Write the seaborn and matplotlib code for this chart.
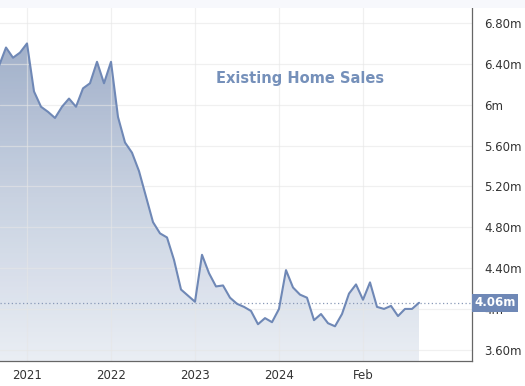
import numpy as np
import pandas as pd
import matplotlib
matplotlib.use("Agg")
import matplotlib.pyplot as plt
import seaborn as sns
from matplotlib.colors import LinearSegmentedColormap

# ---- data (monthly, Sep 2020 .. Sep 2025), millions SAAR ----
months = pd.date_range("2020-09-01", "2025-09-01", freq="MS").strftime("%Y-%m").tolist()
sales = [6.38, 6.56, 6.46, 6.51,
         6.60, 6.13, 5.98, 5.93, 5.87, 5.98, 6.06, 5.98, 6.16, 6.21, 6.42, 6.21,
         6.42, 5.88, 5.63, 5.53, 5.35, 5.10, 4.85, 4.74, 4.70, 4.48, 4.19, 4.13,
         4.07, 4.53, 4.35, 4.22, 4.23, 4.11, 4.05, 4.02, 3.98, 3.85, 3.91, 3.87,
         4.00, 4.38, 4.21, 4.14, 4.11, 3.89, 3.95, 3.86, 3.83, 3.95, 4.15, 4.24,
         4.09, 4.26, 4.02, 4.00, 4.03, 3.93, 4.00, 4.00, 4.06]
x_tick_months = ["2021-01", "2022-01", "2023-01", "2024-01", "2025-01"]
x_tick_labels = ["2021", "2022", "2023", "2024", "Feb"]
y_ticks = [3.6, 4.0, 4.4, 4.8, 5.2, 5.6, 6.0, 6.4, 6.8]
y_tick_labels = ["3.60m", "4m", "4.40m", "4.80m", "5.20m", "5.60m", "6m", "6.40m", "6.80m"]
last_label = "4.06m"
title = "Existing Home Sales"

df = pd.DataFrame({"month": months, "sales": sales})
df["idx"] = np.arange(len(df))

line_color = "#6f88b6"
ymin, ymax = 3.49, 6.947
xmin, xmax = 1 / 7, 473 / 7

sns.set_theme(style="white")
plt.rcParams["font.family"] = ["DejaVu Sans"]

fig = plt.figure(figsize=(5.25, 3.86), dpi=100)
fig.patch.set_facecolor("white")
# light top band
fig.patches.append(plt.Rectangle((0, 1 - 8 / 386), 1, 8 / 386, transform=fig.transFigure,
                                 facecolor="#f7f8fc", edgecolor="none", zorder=0))
ax = fig.add_axes([0, 25 / 386, 472 / 525, (361 - 8) / 386])
ax.set_facecolor("white")

# grid (drawn above the fill, faint, so it shows through like the reference)
tick_pos = [months.index(m) for m in x_tick_months]
for yt in y_ticks:
    ax.axhline(yt, color="#e6e6e6", lw=0.9, zorder=2, alpha=0.6)
for xt in tick_pos:
    ax.axvline(xt, color="#e6e6e6", lw=0.9, zorder=2, alpha=0.6)

# gradient fill under the line
poly = ax.fill_between(df["idx"], df["sales"], ymin, color="none", lw=0)
cmap = LinearSegmentedColormap.from_list("g", ["#e9edf4", "#c6d0e0", "#9aaac6"])
grad = np.linspace(0, 1, 256).reshape(-1, 1)
im = ax.imshow(grad, cmap=cmap, aspect="auto", origin="lower",
               extent=[df["idx"].min(), df["idx"].max(), ymin, 6.7], zorder=1, alpha=0.95)
path = poly.get_paths()[0]
im.set_clip_path(path, transform=ax.transData)

sns.lineplot(data=df, x="idx", y="sales", ax=ax, color=line_color, lw=1.5, zorder=3)

# last value dotted line
last = sales[-1]
ax.axhline(last, color="#8a9ab8", lw=0.9, ls=(0, (1, 2)), zorder=2)

ax.set_xlim(xmin, xmax)
ax.set_ylim(ymin, ymax)
ax.set_xticks(tick_pos)
ax.set_xticklabels(x_tick_labels)
ax.yaxis.tick_right()
ax.set_yticks(y_ticks)
ax.set_yticklabels(y_tick_labels)
ax.tick_params(axis="y", length=0, pad=9, labelsize=8.5, labelcolor="#333333")
ax.tick_params(axis="x", length=0, pad=6, labelsize=8.5, labelcolor="#333333")
ax.set_xlabel("")
ax.set_ylabel("")
for s in ["top", "left"]:
    ax.spines[s].set_visible(False)
ax.spines["right"].set_color("#666666")
ax.spines["right"].set_linewidth(0.9)
ax.spines["bottom"].set_color("#666666")
ax.spines["bottom"].set_linewidth(0.9)

# title
ax.text(300 / 472, 1 - (78 - 8) / 353, title, transform=ax.transAxes, ha="center", va="center",
        fontsize=10.5, fontweight="bold", color="#7590ba", zorder=5)

# last value label box (covers the "4m" tick label, as in the reference)
ax.text(1.005, last, last_label, transform=ax.get_yaxis_transform(), ha="left", va="center",
        fontsize=8.5, fontweight="bold", color="white", zorder=6, clip_on=False,
        bbox=dict(boxstyle="square,pad=0.2", facecolor="#6f88b6", edgecolor="none"))

fig.savefig("out.png", dpi=100)
